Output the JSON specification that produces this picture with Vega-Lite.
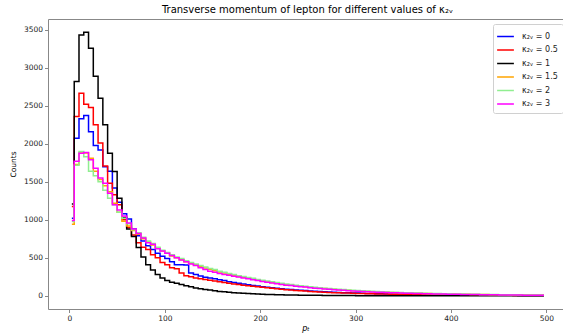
{
"$schema":"https://vega.github.io/schema/vega-lite/v6.json",
"width":515,"height":290,
"autosize":{"type":"none"},
"padding":{"left":48,"top":19,"right":0,"bottom":25},
"config":{"view":{"stroke":null},"font":"DejaVu Sans"},
"title":{"text":"Transverse momentum of lepton for different values of κ₂ᵥ","fontSize":10,"fontWeight":"normal","color":"#000","anchor":"middle","frame":"group","offset":4,"dx":2},
"data":{"values":[
{"pT":2.5,"k0":1020,"k05":1175,"k1":1210,"k15":943,"k2":978,"k3":990},
{"pT":7.5,"k0":2075,"k05":2360,"k1":2820,"k15":1730,"k2":1720,"k3":1770},
{"pT":12.5,"k0":2330,"k05":2667,"k1":3434,"k15":1880,"k2":1900,"k3":1877},
{"pT":17.5,"k0":2373,"k05":2520,"k1":3470,"k15":1880,"k2":1830,"k3":1886},
{"pT":22.5,"k0":2160,"k05":2480,"k1":3260,"k15":1810,"k2":1640,"k3":1790},
{"pT":27.5,"k0":1980,"k05":2250,"k1":2890,"k15":1640,"k2":1580,"k3":1680},
{"pT":32.5,"k0":1920,"k05":2010,"k1":2600,"k15":1530,"k2":1500,"k3":1550},
{"pT":37.5,"k0":1700,"k05":1710,"k1":2250,"k15":1450,"k2":1390,"k3":1480},
{"pT":42.5,"k0":1640,"k05":1480,"k1":1877,"k15":1370,"k2":1285,"k3":1350},
{"pT":47.5,"k0":1420,"k05":1330,"k1":1636,"k15":1220,"k2":1200,"k3":1200},
{"pT":52.5,"k0":1230,"k05":1200,"k1":1285,"k15":1100,"k2":1100,"k3":1130},
{"pT":57.5,"k0":1080,"k05":1000,"k1":1030,"k15":980,"k2":1020,"k3":1050},
{"pT":62.5,"k0":1010,"k05":900,"k1":880,"k15":920,"k2":950,"k3":960},
{"pT":67.5,"k0":880,"k05":800,"k1":780,"k15":860,"k2":870,"k3":880},
{"pT":72.5,"k0":790,"k05":700,"k1":635,"k15":810,"k2":830,"k3":820},
{"pT":77.5,"k0":720,"k05":640,"k1":510,"k15":750,"k2":770,"k3":760},
{"pT":82.5,"k0":660,"k05":610,"k1":410,"k15":710,"k2":720,"k3":700},
{"pT":87.5,"k0":610,"k05":540,"k1":340,"k15":670,"k2":690,"k3":680},
{"pT":92.5,"k0":560,"k05":500,"k1":280,"k15":630,"k2":640,"k3":620},
{"pT":97.5,"k0":520,"k05":440,"k1":235,"k15":590,"k2":600,"k3":590},
{"pT":102.5,"k0":490,"k05":410,"k1":200,"k15":560,"k2":570,"k3":560},
{"pT":107.5,"k0":450,"k05":370,"k1":180,"k15":525,"k2":540,"k3":530},
{"pT":112.5,"k0":410,"k05":355,"k1":165,"k15":500,"k2":510,"k3":500},
{"pT":117.5,"k0":408,"k05":300,"k1":150,"k15":475,"k2":490,"k3":470},
{"pT":122.5,"k0":405,"k05":265,"k1":132,"k15":450,"k2":460,"k3":450},
{"pT":127.5,"k0":300,"k05":250,"k1":118,"k15":430,"k2":440,"k3":420},
{"pT":132.5,"k0":280,"k05":235,"k1":102,"k15":410,"k2":420,"k3":400},
{"pT":137.5,"k0":260,"k05":225,"k1":92,"k15":385,"k2":400,"k3":370},
{"pT":142.5,"k0":245,"k05":215,"k1":82,"k15":365,"k2":380,"k3":345},
{"pT":147.5,"k0":235,"k05":205,"k1":75,"k15":350,"k2":360,"k3":325},
{"pT":152.5,"k0":225,"k05":195,"k1":66,"k15":330,"k2":345,"k3":310},
{"pT":157.5,"k0":210,"k05":185,"k1":58,"k15":315,"k2":325,"k3":295},
{"pT":162.5,"k0":200,"k05":175,"k1":52,"k15":300,"k2":310,"k3":282},
{"pT":167.5,"k0":185,"k05":165,"k1":46,"k15":285,"k2":295,"k3":270},
{"pT":172.5,"k0":175,"k05":155,"k1":41,"k15":270,"k2":280,"k3":258},
{"pT":177.5,"k0":165,"k05":148,"k1":37,"k15":255,"k2":265,"k3":247},
{"pT":182.5,"k0":155,"k05":140,"k1":33,"k15":245,"k2":255,"k3":235},
{"pT":187.5,"k0":145,"k05":133,"k1":30,"k15":230,"k2":240,"k3":225},
{"pT":192.5,"k0":135,"k05":126,"k1":27,"k15":220,"k2":230,"k3":212},
{"pT":197.5,"k0":128,"k05":120,"k1":24,"k15":208,"k2":215,"k3":202},
{"pT":202.5,"k0":120,"k05":112,"k1":21,"k15":195,"k2":205,"k3":190},
{"pT":207.5,"k0":113,"k05":105,"k1":19,"k15":185,"k2":195,"k3":180},
{"pT":212.5,"k0":106,"k05":98,"k1":17,"k15":175,"k2":185,"k3":170},
{"pT":217.5,"k0":100,"k05":92,"k1":15,"k15":165,"k2":175,"k3":160},
{"pT":222.5,"k0":94,"k05":86,"k1":14,"k15":155,"k2":165,"k3":150},
{"pT":227.5,"k0":88,"k05":80,"k1":12,"k15":147,"k2":155,"k3":140},
{"pT":232.5,"k0":83,"k05":75,"k1":11,"k15":140,"k2":148,"k3":135},
{"pT":237.5,"k0":78,"k05":70,"k1":10,"k15":132,"k2":140,"k3":125},
{"pT":242.5,"k0":73,"k05":66,"k1":9,"k15":125,"k2":133,"k3":120},
{"pT":247.5,"k0":69,"k05":62,"k1":8,"k15":118,"k2":125,"k3":115},
{"pT":252.5,"k0":65,"k05":58,"k1":7,"k15":112,"k2":118,"k3":105},
{"pT":257.5,"k0":61,"k05":54,"k1":6,"k15":106,"k2":112,"k3":100},
{"pT":262.5,"k0":57,"k05":51,"k1":6,"k15":100,"k2":106,"k3":95},
{"pT":267.5,"k0":54,"k05":48,"k1":5,"k15":95,"k2":100,"k3":90},
{"pT":272.5,"k0":51,"k05":45,"k1":5,"k15":90,"k2":95,"k3":85},
{"pT":277.5,"k0":48,"k05":42,"k1":4,"k15":85,"k2":90,"k3":80},
{"pT":282.5,"k0":45,"k05":40,"k1":4,"k15":80,"k2":86,"k3":75},
{"pT":287.5,"k0":42,"k05":38,"k1":3,"k15":76,"k2":82,"k3":72},
{"pT":292.5,"k0":40,"k05":36,"k1":3,"k15":72,"k2":78,"k3":68},
{"pT":297.5,"k0":38,"k05":34,"k1":3,"k15":68,"k2":74,"k3":64},
{"pT":302.5,"k0":36,"k05":32,"k1":2,"k15":64,"k2":70,"k3":60},
{"pT":307.5,"k0":34,"k05":30,"k1":2,"k15":61,"k2":66,"k3":57},
{"pT":312.5,"k0":32,"k05":28,"k1":2,"k15":58,"k2":63,"k3":54},
{"pT":317.5,"k0":30,"k05":27,"k1":2,"k15":55,"k2":60,"k3":51},
{"pT":322.5,"k0":28,"k05":25,"k1":1,"k15":52,"k2":57,"k3":48},
{"pT":327.5,"k0":27,"k05":24,"k1":1,"k15":49,"k2":54,"k3":46},
{"pT":332.5,"k0":25,"k05":23,"k1":1,"k15":47,"k2":51,"k3":43},
{"pT":337.5,"k0":24,"k05":22,"k1":1,"k15":44,"k2":48,"k3":41},
{"pT":342.5,"k0":23,"k05":21,"k1":1,"k15":42,"k2":46,"k3":39},
{"pT":347.5,"k0":22,"k05":20,"k1":1,"k15":40,"k2":44,"k3":37},
{"pT":352.5,"k0":21,"k05":19,"k1":1,"k15":38,"k2":42,"k3":35},
{"pT":357.5,"k0":20,"k05":18,"k1":1,"k15":36,"k2":40,"k3":33},
{"pT":362.5,"k0":19,"k05":17,"k1":0,"k15":34,"k2":38,"k3":31},
{"pT":367.5,"k0":18,"k05":16,"k1":0,"k15":33,"k2":36,"k3":30},
{"pT":372.5,"k0":17,"k05":15,"k1":0,"k15":31,"k2":34,"k3":28},
{"pT":377.5,"k0":16,"k05":14,"k1":0,"k15":30,"k2":32,"k3":27},
{"pT":382.5,"k0":15,"k05":14,"k1":0,"k15":28,"k2":31,"k3":25},
{"pT":387.5,"k0":14,"k05":13,"k1":0,"k15":27,"k2":29,"k3":24},
{"pT":392.5,"k0":14,"k05":12,"k1":0,"k15":26,"k2":28,"k3":23},
{"pT":397.5,"k0":13,"k05":12,"k1":0,"k15":24,"k2":27,"k3":22},
{"pT":402.5,"k0":12,"k05":11,"k1":0,"k15":23,"k2":25,"k3":21},
{"pT":407.5,"k0":12,"k05":10,"k1":0,"k15":22,"k2":24,"k3":20},
{"pT":412.5,"k0":11,"k05":10,"k1":0,"k15":21,"k2":23,"k3":19},
{"pT":417.5,"k0":10,"k05":9,"k1":0,"k15":20,"k2":22,"k3":18},
{"pT":422.5,"k0":10,"k05":9,"k1":0,"k15":19,"k2":21,"k3":17},
{"pT":427.5,"k0":9,"k05":8,"k1":0,"k15":18,"k2":20,"k3":16},
{"pT":432.5,"k0":9,"k05":8,"k1":0,"k15":17,"k2":19,"k3":15},
{"pT":437.5,"k0":8,"k05":7,"k1":0,"k15":16,"k2":18,"k3":14},
{"pT":442.5,"k0":8,"k05":7,"k1":0,"k15":15,"k2":17,"k3":14},
{"pT":447.5,"k0":7,"k05":7,"k1":0,"k15":14,"k2":16,"k3":13},
{"pT":452.5,"k0":7,"k05":6,"k1":0,"k15":14,"k2":15,"k3":12},
{"pT":457.5,"k0":6,"k05":6,"k1":0,"k15":13,"k2":14,"k3":12},
{"pT":462.5,"k0":6,"k05":6,"k1":0,"k15":12,"k2":14,"k3":11},
{"pT":467.5,"k0":6,"k05":5,"k1":0,"k15":12,"k2":13,"k3":10},
{"pT":472.5,"k0":5,"k05":5,"k1":0,"k15":11,"k2":12,"k3":10},
{"pT":477.5,"k0":5,"k05":5,"k1":0,"k15":10,"k2":12,"k3":9},
{"pT":482.5,"k0":5,"k05":4,"k1":0,"k15":10,"k2":11,"k3":9},
{"pT":487.5,"k0":4,"k05":4,"k1":0,"k15":9,"k2":10,"k3":8},
{"pT":492.5,"k0":4,"k05":4,"k1":0,"k15":9,"k2":10,"k3":8},
{"pT":497.5,"k0":4,"k05":4,"k1":0,"k15":8,"k2":9,"k3":7}
]},
"transform":[{"fold":["k0","k05","k1","k15","k2","k3"],"as":["k","c"]}],
"layer":[
{"mark":{"type":"line","interpolate":"step","strokeWidth":1.5,"clip":true},
 "encoding":{
  "x":{"field":"pT","type":"quantitative","scale":{"domain":[-22.5,517.5],"nice":false,"zero":false},
   "axis":{"values":[0,100,200,300,400,500],"format":"d","grid":false,"labelFontSize":7.5,"labelColor":"#222","tickColor":"#888","domainColor":"#888","tickSize":3.5,"labelPadding":2,"title":"pₜ","titleFontSize":8,"titleFontWeight":"normal","titleFontStyle":"italic","titleColor":"#000","titlePadding":2}},
  "y":{"field":"c","type":"quantitative","scale":{"domain":[-173.5,3643.5],"nice":false,"zero":false},
   "axis":{"values":[0,500,1000,1500,2000,2500,3000,3500],"format":"d","grid":false,"labelFontSize":7.5,"labelColor":"#222","tickColor":"#888","domainColor":"#888","tickSize":3.5,"labelPadding":2,"title":"Counts","titleFontSize":7.5,"titleFontWeight":"normal","titleColor":"#000","titlePadding":6}},
  "color":{"field":"k","type":"nominal","scale":{"domain":["k0","k05","k1","k15","k2","k3"],"range":["#0000ff","#ff0000","#000000","#ffa500","#90ee90","#ff00ff"]},
   "legend":{"title":null,"orient":"none","legendX":445,"legendY":5,"fillColor":"#ffffff","strokeColor":"#d0d0d0","cornerRadius":2,"padding":5,"symbolType":"M-1.25,0H1.25","symbolSize":180,"symbolStrokeWidth":1.5,"labelFontSize":8,"labelColor":"#222","labelOffset":9,"rowPadding":1.5,
    "labelExpr":"'κ₂ᵥ = ' + (datum.label == 'k0' ? '0' : datum.label == 'k05' ? '0.5' : datum.label == 'k1' ? '1' : datum.label == 'k15' ? '1.5' : datum.label == 'k2' ? '2' : '3')"}}
 }},
{"mark":{"type":"line","opacity":0,"clip":true},
 "encoding":{
  "x":{"field":"pT","type":"quantitative","scale":{"domain":[-22.5,517.5],"nice":false,"zero":false},
   "axis":{"orient":"top","labels":false,"ticks":false,"grid":false,"title":null,"domainColor":"#888"}},
  "y":{"field":"c","type":"quantitative"}
 }}
],
"resolve":{"axis":{"x":"independent"}}
}
